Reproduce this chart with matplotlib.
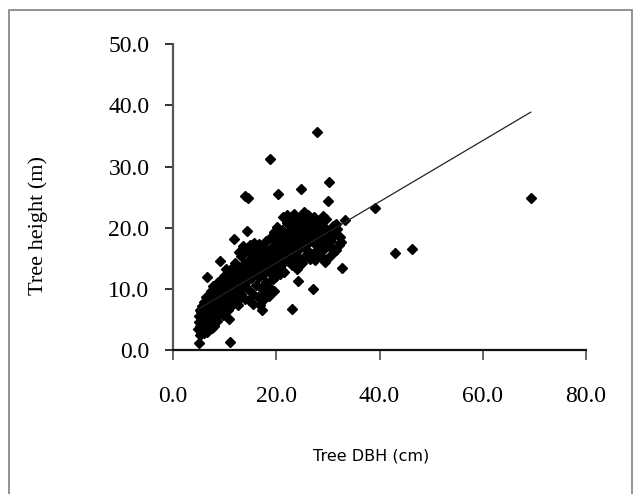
import numpy as np
import matplotlib
matplotlib.use('Agg')
import matplotlib.pyplot as plt
from matplotlib.patches import Rectangle
from matplotlib.transforms import ScaledTranslation

# Tree diameter at breast height (cm) and tree height (m)
dbh = [
    # 5-7 cm
    5.0, 4.9, 5.0, 5.1, 5.2, 5.3, 5.4, 5.5, 5.6, 5.7, 5.8, 5.9, 6.0, 6.0, 6.1, 5.2, 5.5, 5.8,
    6.2, 6.3, 6.4, 6.5, 6.5, 6.6, 6.7, 6.8, 6.9, 7.0, 6.3, 6.6, 6.9, 7.0,
    # 7-10 cm
    7.1, 7.2, 7.3, 7.4, 7.5, 7.6, 7.7, 7.8, 7.9, 8.0, 7.3, 7.6, 7.9, 8.0,
    8.1, 8.2, 8.3, 8.4, 8.5, 8.6, 8.7, 8.8, 8.9, 9.0, 9.1, 8.4, 8.8, 9.0,
    9.2, 9.3, 9.4, 9.5, 9.6, 9.8, 9.9, 10.0, 9.5, 9.7,
    # 10-15 cm
    10.1, 10.2, 10.4, 10.5, 10.6, 10.8, 10.9, 11.0, 11.1, 10.3, 10.7,
    11.2, 11.3, 11.5, 11.6, 11.8, 11.9, 12.0, 11.4, 11.7,
    12.1, 12.3, 12.4, 12.5, 12.7, 12.8, 12.9, 13.0, 12.6,
    13.1, 13.2, 13.4, 13.5, 13.6, 13.8, 13.9, 14.0, 13.3, 13.7,
    14.2, 14.3, 14.4, 14.5, 14.6, 14.7, 14.8, 15.0, 14.9, 14.1,
    # 15-20 cm
    15.1, 15.3, 15.4, 15.6, 15.7, 15.9, 16.0, 15.5, 15.8,
    16.1, 16.3, 16.4, 16.6, 16.7, 16.9, 17.0, 17.2, 16.5, 16.8,
    17.3, 17.5, 17.6, 17.8, 17.9, 18.0, 17.4, 17.7,
    18.1, 18.3, 18.4, 18.6, 18.7, 18.8, 19.0, 18.5, 18.9,
    19.1, 19.3, 19.4, 19.6, 19.7, 19.9, 20.0, 19.5, 19.8,
    # 20-25 cm
    20.1, 20.2, 20.3, 20.4, 20.6, 20.7, 20.9, 21.0, 20.5, 20.8,
    21.1, 21.3, 21.4, 21.6, 21.7, 21.9, 22.0, 21.5, 21.8,
    22.1, 22.3, 22.4, 22.6, 22.7, 22.9, 23.0, 23.1, 22.5, 22.8,
    23.2, 23.3, 23.5, 23.6, 23.8, 23.9, 24.0, 24.2, 23.4, 23.7,
    24.3, 24.4, 24.5, 24.7, 24.8, 24.9, 25.0, 24.6, 24.1,
    # 25-33 cm
    25.2, 25.3, 25.5, 25.6, 25.8, 25.9, 26.0, 25.4,
    26.2, 26.3, 26.5, 26.6, 26.8, 26.9, 27.0, 27.1, 26.4,
    27.3, 27.5, 27.7, 27.8, 27.9, 28.0, 27.4, 27.6,
    28.2, 28.4, 28.5, 28.7, 28.9, 29.0, 28.6,
    29.2, 29.4, 29.5, 29.7, 29.9, 30.0, 30.1, 29.6,
    30.3, 30.4, 30.5, 30.7, 30.9, 31.0, 30.6,
    31.3, 31.6, 31.8, 32.1, 32.5, 32.7, 32.3, 31.5,
    # large trees
    33.4, 39.2, 43.0, 46.3, 69.3,
]
height = [
    1.2, 3.5, 4.5, 5.5, 6.5, 4.0, 3.0, 5.0, 7.2, 3.8, 6.0, 4.6, 2.8, 7.8, 5.3, 2.5, 6.2, 3.3,
    4.2, 6.6, 3.6, 12.0, 5.8, 7.4, 4.9, 8.2, 3.9, 6.3, 8.6, 2.9, 5.4, 7.0,
    4.4, 8.9, 5.9, 7.7, 3.6, 6.7, 10.4, 5.0, 8.3, 6.1, 9.6, 4.5, 7.2, 4.0,
    9.4, 5.5, 7.6, 10.0, 6.6, 4.8, 8.7, 11.2, 7.1, 5.9, 14.6, 8.1, 9.8, 6.4,
    9.0, 7.9, 11.6, 6.8, 10.3, 8.4, 12.1, 7.3, 9.6, 5.7,
    10.8, 8.7, 12.3, 9.5, 6.6, 11.4, 5.1, 9.0, 1.3, 13.2, 7.9,
    12.8, 10.2, 8.4, 13.6, 18.1, 11.0, 9.3, 7.4, 12.0,
    14.2, 10.6, 8.0, 12.6, 16.1, 9.8, 13.4, 11.3, 7.3,
    15.4, 9.1, 12.1, 17.0, 10.5, 14.1, 25.2, 8.4, 13.1, 11.8,
    16.2, 12.7, 19.5, 10.0, 24.8, 14.8, 8.2, 13.5, 17.2, 11.1,
    11.7, 15.6, 9.2, 17.5, 12.9, 14.4, 10.7, 7.6, 16.4,
    13.3, 15.2, 8.7, 11.9, 17.3, 13.8, 10.1, 6.5, 16.0, 7.3,
    14.7, 12.4, 16.7, 9.4, 15.3, 11.2, 8.2, 13.2,
    17.8, 13.9, 10.4, 16.1, 31.2, 12.6, 15.0, 8.9, 18.5,
    14.0, 17.0, 11.6, 19.3, 15.8, 13.1, 17.9, 9.6, 12.0,
    20.1, 16.3, 25.5, 14.5, 18.8, 12.5, 17.1, 15.2, 19.6, 13.6,
    19.7, 16.7, 21.8, 14.6, 18.3, 15.9, 20.7, 12.8, 17.4,
    22.0, 17.8, 15.1, 19.5, 16.4, 21.2, 13.9, 6.7, 18.6, 14.8,
    19.9, 17.0, 22.3, 15.6, 18.4, 20.9, 16.2, 11.3, 14.6, 21.5,
    19.1, 17.6, 15.0, 26.4, 20.3, 18.0, 14.3, 21.7, 13.3,
    19.4, 16.8, 21.0, 15.4, 18.7, 20.2, 17.3, 22.5,
    22.1, 16.1, 19.8, 14.9, 18.2, 21.3, 15.7, 10.0, 20.6,
    19.0, 17.4, 20.4, 35.7, 16.4, 18.6, 21.7, 14.7,
    19.6, 17.1, 20.9, 15.3, 18.1, 21.9, 19.2,
    16.6, 20.0, 14.4, 18.8, 17.5, 15.1, 24.4, 21.4,
    27.4, 19.5, 16.9, 18.4, 20.3, 15.8, 17.9,
    18.9, 16.3, 19.8, 17.2, 17.6, 13.4, 18.5, 20.6,
    21.2, 23.2, 15.8, 16.6, 24.9,
]

# linear trend line fitted in the original figure
trend_slope = 0.5
trend_intercept = 4.25

x_ticks = [0, 20, 40, 60, 80]
y_ticks = [0, 10, 20, 30, 40, 50]

dbh = np.array(dbh)
height = np.array(height)

fig = plt.figure(figsize=(6.37, 4.94), dpi=100)
ax = fig.add_axes([173 / 637, 1 - 350 / 494, (586 - 173) / 637, (350 - 44.3) / 494])

ax.plot(dbh, height, linestyle='none', marker='D', ms=4.8, color='black')

xs = np.array([dbh.min(), dbh.max()])
ax.plot(xs, trend_slope * xs + trend_intercept, color='#222222', lw=0.9)

ax.set_xlim(0, 80)
ax.set_ylim(0, 50)
ax.set_xticks(x_ticks)
ax.set_yticks(y_ticks)
ax.set_xticklabels([f'{v:.1f}' for v in x_ticks], family='Liberation Serif', fontsize=17)
ax.set_yticklabels([f'{v:.1f}' for v in y_ticks], family='Liberation Serif', fontsize=17)

# Excel draws the value labels a little below their ticks
shift = ScaledTranslation(0, -4 / 100, fig.dpi_scale_trans)
for lab in ax.get_yticklabels():
    lab.set_transform(lab.get_transform() + shift)

for side in ['top', 'right']:
    ax.spines[side].set_visible(False)
ax.spines['left'].set_color('#555555')
ax.spines['left'].set_linewidth(1.6)
ax.spines['bottom'].set_color('#111111')
ax.spines['bottom'].set_linewidth(1.6)
ax.tick_params(axis='x', direction='out', length=7, width=1.4, color='#666666', pad=19)
ax.tick_params(axis='y', direction='out', length=6, width=1.4, color='#333333', pad=11)

ax.set_ylabel('Tree height (m)', family='Liberation Serif', fontsize=16, va='center')
ax.yaxis.set_label_coords(-0.327, 0.406)
ax.set_xlabel('Tree DBH (cm)', family='DejaVu Sans', fontsize=11.5, va='center')
ax.xaxis.set_label_coords(0.479, -0.347)

# outer chart frame
fig.patches.append(Rectangle((9 / 637, -0.05), (632 - 9) / 637, 1.05 - 10 / 494,
                             transform=fig.transFigure, fill=False,
                             edgecolor='#808080', lw=1.2))

plt.savefig('out.png', dpi=100)
